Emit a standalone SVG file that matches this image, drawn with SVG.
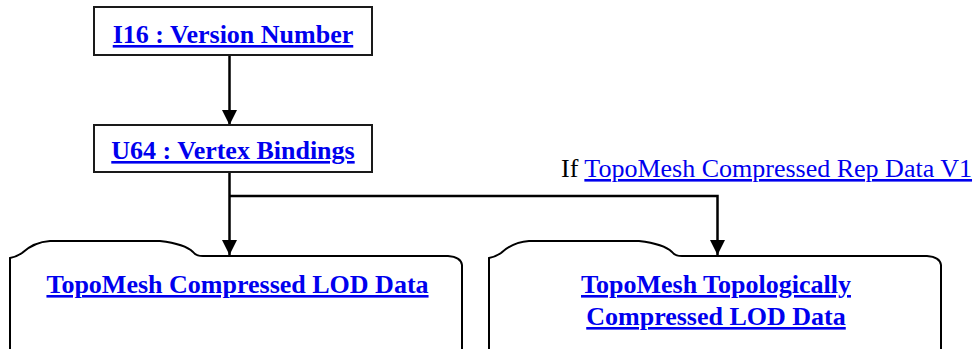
<svg xmlns="http://www.w3.org/2000/svg" width="974" height="349" viewBox="0 0 974 349">
  <style>
    .box { fill: #ffffff; stroke: #1a1a1a; stroke-width: 2; }
    .folder { fill: #ffffff; stroke: #000000; stroke-width: 2; }
    .link { font-family: "Liberation Serif", "Times New Roman", serif; font-size: 26px; font-weight: bold; fill: #0000ee; text-decoration: underline; text-anchor: middle; }
    .cond { font-family: "Liberation Serif", "Times New Roman", serif; font-size: 26px; fill: #000000; }
    .cond-link { fill: #0000ee; text-decoration: underline; }
    .wire { fill: none; stroke: #000000; stroke-width: 2.5; }
  </style>
  <defs>
    <marker id="arrow" markerWidth="15" markerHeight="15" refX="15" refY="7.5" orient="auto" markerUnits="userSpaceOnUse">
      <path d="M0,0 L15,7.5 L0,15 Z" fill="#000000"/>
    </marker>
  </defs>
  <rect width="974" height="349" fill="#ffffff"/>

  <g id="connectors">
    <line class="wire" x1="229.5" y1="55" x2="229.5" y2="125" marker-end="url(#arrow)"/>
    <line class="wire" x1="229.5" y1="172" x2="229.5" y2="255" marker-end="url(#arrow)"/>
    <polyline class="wire" points="229.5,196 717.5,196 717.5,255" marker-end="url(#arrow)"/>
    <text class="cond" x="561" y="177">If <tspan class="cond-link">TopoMesh Compressed Rep Data V1</tspan></text>
  </g>

  <g id="version-number">
    <rect class="box" x="94" y="7" width="278" height="48"/>
    <text class="link" x="233" y="43">I16 : Version Number</text>
  </g>

  <g id="vertex-bindings">
    <rect class="box" x="94" y="125" width="278" height="47"/>
    <text class="link" x="233" y="159">U64 : Vertex Bindings</text>
  </g>

  <g id="compressed-lod">
    <path class="folder" d="M10,352 L10,258 Q16,257 22,253 Q34,242 50,241 L160,241 Q185,244 193,252 Q196,256 203,256 L448,256 Q461,257 462,265 L462,352"/>
    <text class="link" x="237.5" y="293">TopoMesh Compressed LOD Data</text>
  </g>

  <g id="topological-lod">
    <path class="folder" d="M489,352 L489,258 Q495,257 501,253 Q513,242 529,241 L639,241 Q664,244 672,252 Q675,256 682,256 L927,256 Q940,257 941,265 L941,352"/>
    <text class="link" x="716" y="293">TopoMesh Topologically</text>
    <text class="link" x="716" y="325">Compressed LOD Data</text>
  </g>
</svg>
